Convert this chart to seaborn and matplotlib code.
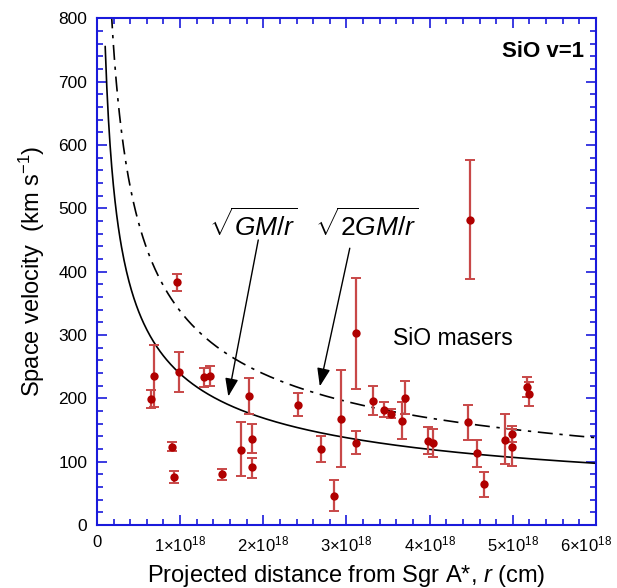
import numpy as np
import pandas as pd
import matplotlib
matplotlib.use("Agg")
import matplotlib.pyplot as plt
import matplotlib.transforms as mtransforms
import seaborn as sns
from matplotlib.ticker import MultipleLocator, FixedLocator, FixedFormatter

# SiO v=1 masers: projected distance (1e18 cm), space velocity and error range (km/s)
r_e18 = [0.65, 0.69, 0.96, 0.90, 0.93, 0.99, 1.29, 1.36, 1.51, 1.73, 1.83, 1.86,
         1.86, 2.42, 2.69, 2.85, 2.94, 3.11, 3.11, 3.32, 3.45, 3.54, 3.67, 3.70,
         3.98, 4.04, 4.46, 4.48, 4.57, 4.65, 4.90, 4.99, 4.99, 5.17, 5.20]
vel = [199, 236, 383, 124, 76, 241, 233, 236, 80, 119, 204, 136,
       91, 190, 120, 46, 167, 303, 130, 196, 182, 176, 165, 201,
       133, 130, 162, 482, 114, 65, 134, 143, 124, 218, 207]
vel_lo = [185, 186, 370, 117, 67, 210, 218, 219, 71, 77, 175, 114,
          75, 172, 99, 22, 91, 215, 112, 174, 171, 169, 136, 175,
          112, 107, 134, 389, 92, 45, 96, 131, 94, 202, 188]
vel_hi = [213, 285, 396, 131, 85, 273, 248, 251, 89, 162, 232, 159,
          106, 208, 141, 71, 245, 390, 148, 219, 195, 184, 195, 227,
          155, 151, 189, 576, 135, 84, 175, 157, 151, 234, 226]

x_ticks = [0, 1e18, 2e18, 3e18, 4e18, 5e18, 6e18]
x_labels = ["0"] + [r"$\mathregular{%d{\times}10^{18}}$" % k for k in range(1, 7)]

# Keplerian curves for M = 4.3e6 Msun (cgs)
G = 6.674e-8
M_BH = 4.3e6 * 1.989e33

sns.set_style("ticks")
plt.rcParams["font.family"] = ["Liberation Sans", "DejaVu Sans"]
plt.rcParams["mathtext.fontset"] = "custom"
plt.rcParams["mathtext.rm"] = "Liberation Sans"
plt.rcParams["mathtext.it"] = "Liberation Sans:italic"
plt.rcParams["text.color"] = "black"
plt.rcParams["axes.labelcolor"] = "black"

blue = "#1a1adb"
pt_col = "#b00000"
err_col = "#c84848"

df = pd.DataFrame({"r": np.array(r_e18) * 1e18, "v": vel,
                   "lo": vel_lo, "hi": vel_hi})

r1 = np.linspace(0.1e18, 6e18, 600)
r2 = np.linspace(0.175e18, 6e18, 600)
curve1 = pd.DataFrame({"r": r1, "v": np.sqrt(G * M_BH / r1) / 1e5})
curve2 = pd.DataFrame({"r": r2, "v": np.sqrt(2 * G * M_BH / r2) / 1e5})

fig = plt.figure(figsize=(6.17, 5.88), dpi=100)
ax = fig.add_axes([0.157, 0.107, 0.809, 0.862])

sns.lineplot(data=curve1, x="r", y="v", ax=ax, color="black", lw=1.2)
sns.lineplot(data=curve2, x="r", y="v", ax=ax, color="black", lw=1.2,
             dashes=False)
ax.lines[-1].set_dashes([9, 4, 2, 4])

ax.errorbar(df["r"], df["v"], yerr=[df["v"] - df["lo"], df["hi"] - df["v"]],
            fmt="none", ecolor=err_col, elinewidth=1.6, capsize=3.5,
            capthick=1.4, zorder=3)
sns.scatterplot(data=df, x="r", y="v", ax=ax, color=pt_col, s=36,
                edgecolor=pt_col, linewidth=0, zorder=4)

ax.set_xlim(0, 6e18)
ax.set_ylim(0, 800)
ax.xaxis.set_major_locator(FixedLocator(x_ticks))
ax.xaxis.set_major_formatter(FixedFormatter(x_labels))
ax.xaxis.set_minor_locator(MultipleLocator(0.2e18))
ax.yaxis.set_major_locator(MultipleLocator(100))
ax.yaxis.set_minor_locator(MultipleLocator(20))
ax.tick_params(which="both", direction="in", top=True, right=True,
               color=blue, width=1.2, labelcolor="black")
ax.tick_params(axis="y", labelsize=12.5)
ax.tick_params(axis="x", labelsize=12)
ax.tick_params(which="major", length=7, pad=7)
ax.tick_params(which="minor", length=4)
for sp in ax.spines.values():
    sp.set_color(blue)
    sp.set_linewidth(1.5)
    sp.set_visible(True)

# keep the last tick label inside the canvas
last = ax.get_xticklabels()[-1]
last.set_transform(last.get_transform() +
                   mtransforms.ScaledTranslation(-0.1, 0, fig.dpi_scale_trans))

ax.set_xlabel("Projected distance from Sgr A*, $r$ (cm)", fontsize=17, labelpad=6)
ax.set_ylabel("Space velocity  (km s$^{-1}$)", fontsize=17, labelpad=8)

ax.text(0.975, 0.955, "SiO v=1", transform=ax.transAxes, ha="right", va="top",
        fontsize=16, fontweight="bold")
ax.text(3.56e18, 295, "SiO masers", fontsize=16.5, ha="left", va="center")

ax.text(1.88e18, 475, r"$\sqrt{GM/r}$", fontsize=19, ha="center", va="center")
ax.text(3.25e18, 475, r"$\sqrt{2GM/r}$", fontsize=19, ha="center", va="center")
arrow = dict(arrowstyle="-|>,head_length=1.1,head_width=0.4",
             color="black", lw=1.0, shrinkA=0, shrinkB=0)
ax.annotate("", xy=(1.58e18, 203), xytext=(1.94e18, 450), arrowprops=arrow)
ax.annotate("", xy=(2.68e18, 219), xytext=(3.04e18, 437), arrowprops=arrow)

fig.savefig("out.png", dpi=100)
